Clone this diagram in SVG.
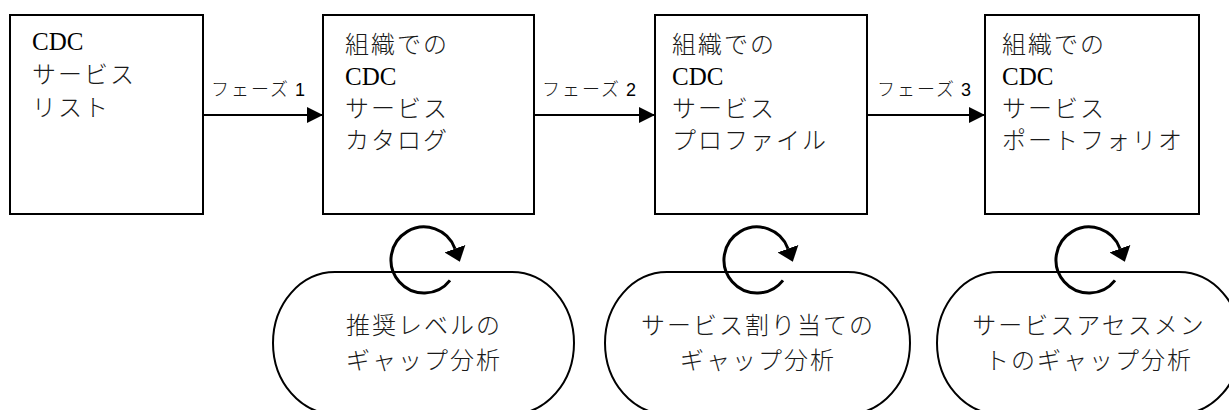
<svg xmlns="http://www.w3.org/2000/svg" width="1229" height="410" viewBox="0 0 1229 410">
<style>
.box{fill:#fff;stroke:#000;stroke-width:2}
.stad{fill:#fff;stroke:#000;stroke-width:2}
.jp{font-family:"Noto Sans CJK JP","Noto Sans CJK SC",sans-serif;font-size:24px;letter-spacing:2px;fill:#1a1a1a;font-weight:300}
.en{font-family:"Liberation Serif",serif;font-size:25px;fill:#000}
.lbl{font-family:"Noto Sans CJK JP",sans-serif;font-size:18px;letter-spacing:2px;fill:#1a1a1a;font-weight:300}
.num{font-family:"Liberation Sans",sans-serif;font-size:18px;letter-spacing:0;fill:#000}
.mid{text-anchor:middle}
.conn{stroke:#000;stroke-width:2;fill:none}
.loop{stroke:#000;stroke-width:3;fill:none}
</style>
<defs>
<marker id="ah" markerUnits="userSpaceOnUse" viewBox="0 0 16 16" refX="16" refY="8" markerWidth="16" markerHeight="16" orient="auto">
<path d="M0,0 L16,8 L0,16 Z" fill="#000"/>
</marker>
<marker id="lh" markerUnits="userSpaceOnUse" viewBox="0 0 14 22" refX="0" refY="11" markerWidth="14" markerHeight="22" orient="auto">
<path d="M0,0 L14,11 L0,22 Z" fill="#000"/>
</marker>
</defs>

<g id="connectors">
<line class="conn" x1="203" y1="115" x2="323" y2="115" marker-end="url(#ah)"/>
<line class="conn" x1="534" y1="115" x2="655" y2="115" marker-end="url(#ah)"/>
<line class="conn" x1="867" y1="115" x2="985" y2="115" marker-end="url(#ah)"/>
<text class="lbl" x="211" y="96">フェーズ<tspan class="num"> 1</tspan></text>
<text class="lbl" x="542" y="96">フェーズ<tspan class="num"> 2</tspan></text>
<text class="lbl" x="877" y="96">フェーズ<tspan class="num"> 3</tspan></text>
</g>

<g id="node-list">
<rect class="box" x="10" y="15" width="193" height="199"/>
<text class="en" x="32" y="50">CDC</text>
<text class="jp" x="32" y="83">サービス</text>
<text class="jp" x="32" y="116">リスト</text>
</g>

<g id="node-catalog">
<rect class="box" x="323" y="15" width="211" height="199"/>
<text class="jp" x="345" y="53">組織での</text>
<text class="en" x="345" y="85">CDC</text>
<text class="jp" x="345" y="117">サービス</text>
<text class="jp" x="345" y="149">カタログ</text>
</g>

<g id="node-profile">
<rect class="box" x="655" y="15" width="212" height="199"/>
<text class="jp" x="672" y="53">組織での</text>
<text class="en" x="672" y="85">CDC</text>
<text class="jp" x="672" y="117">サービス</text>
<text class="jp" x="672" y="149">プロファイル</text>
</g>

<g id="node-portfolio">
<rect class="box" x="985" y="15" width="214" height="199"/>
<text class="jp" x="1002" y="53">組織での</text>
<text class="en" x="1002" y="85">CDC</text>
<text class="jp" x="1002" y="117">サービス</text>
<text class="jp" x="1002" y="149">ポートフォリオ</text>
</g>

<g id="node-gap1">
<rect class="stad" x="273" y="272" width="301" height="142" rx="62" ry="71"/>
<path class="loop" d="M450,280.3 A33,33 0 1 1 455,248.7" marker-end="url(#lh)"/>
<text class="jp mid" x="424" y="334">推奨レベルの</text>
<text class="jp mid" x="424" y="369">ギャップ分析</text>
</g>

<g id="node-gap2">
<rect class="stad" x="605" y="272" width="305" height="142" rx="62" ry="71"/>
<path class="loop" d="M783,280.3 A33,33 0 1 1 788,248.7" marker-end="url(#lh)"/>
<text class="jp mid" x="758" y="334">サービス割り当ての</text>
<text class="jp mid" x="758" y="369">ギャップ分析</text>
</g>

<g id="node-gap3">
<rect class="stad" x="937" y="272" width="304" height="142" rx="62" ry="71"/>
<path class="loop" d="M1115,280.3 A33,33 0 1 1 1120,248.7" marker-end="url(#lh)"/>
<text class="jp mid" x="1089" y="334">サービスアセスメン</text>
<text class="jp mid" x="1089" y="369">トのギャップ分析</text>
</g>
</svg>
